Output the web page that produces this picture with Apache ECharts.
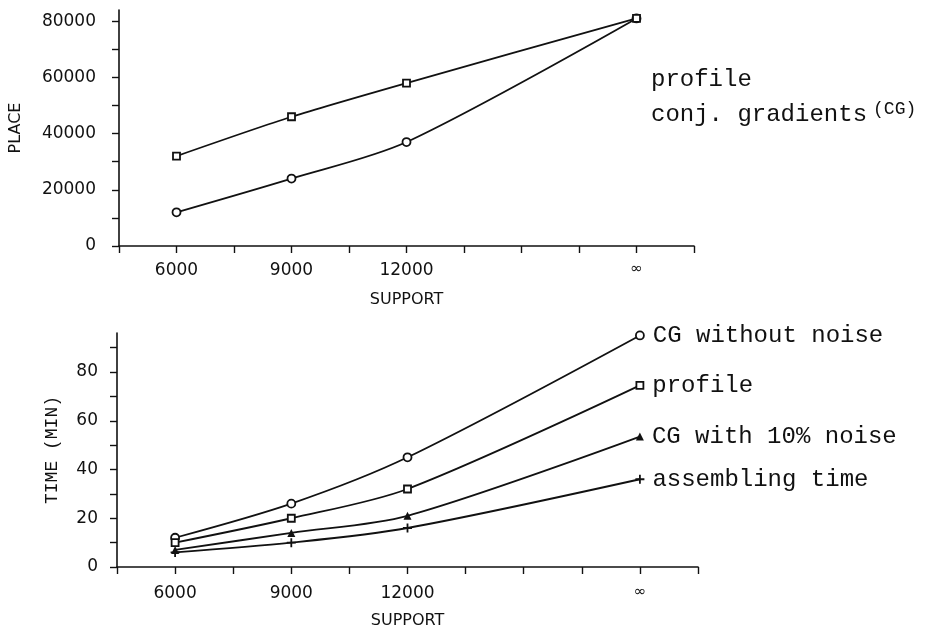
<!DOCTYPE html>
<html>
<head>
<meta charset="utf-8">
<title>Place and time versus support</title>
<script src="https://cdn.jsdelivr.net/npm/echarts@6/dist/echarts.min.js"></script>
<style>
  html, body { margin: 0; padding: 0; background: #fff; }
  #chart { width: 942px; height: 630px; }
</style>
</head>
<body>
<div id="chart"></div>
<script>
// Support sizes; the last entry is the unlimited case, plotted at 18000 and labelled ∞
const supportValues = [6000, 9000, 12000, 18000];
const supportLabels = ['6000', '9000', '12000', '∞'];
const supportTicks = [4500, 6000, 7500, 9000, 10500, 12000, 13500, 15000, 16500, 18000, 19500];

// Upper panel: storage (PLACE)
const placeProfile = [32000, 46000, 58000, 81000];
const placeCG = [12000, 24000, 37000, 81000];
const placeTicks = [0, 10000, 20000, 30000, 40000, 50000, 60000, 70000, 80000];
const placeLabels = [0, 20000, 40000, 60000, 80000];

// Lower panel: computing time in minutes
const timeCGNoNoise = [12, 26, 45, 95];
const timeProfile = [10, 20, 32, 74.5];
const timeCGNoise10 = [7, 14, 21, 53.5];
const timeAssembling = [6, 10, 16, 36];
const timeTicks = [0, 10, 20, 30, 40, 50, 60, 70, 80, 90];
const timeLabels = [0, 20, 40, 60, 80];

const INK = '#111';
const SANS = '"DejaVu Sans", sans-serif';
const MONO = '"Liberation Mono", "DejaVu Sans Mono", monospace';

const pairs = ys => supportValues.map((x, i) => [x, ys[i]]);
const supportLabelMap = {};
supportValues.forEach((v, i) => { supportLabelMap[v] = supportLabels[i]; });

const PLUS = 'path://M4,0h2v4h4v2h-4v4h-2v-4h-4v-2h4z';

function xAxis(gridIndex, labelMargin) {
  return {
    type: 'value', gridIndex, min: 4500, max: 19500,
    name: 'SUPPORT', nameLocation: 'middle', nameGap: 46,
    nameTextStyle: { color: INK, fontFamily: SANS, fontSize: 16, verticalAlign: 'top' },
    axisLine: { show: true, onZero: false, lineStyle: { color: INK, width: 1.6 } },
    axisTick: { show: true, length: 7, customValues: supportTicks, lineStyle: { color: INK, width: 1.4 } },
    axisLabel: {
      color: INK, fontFamily: SANS, fontSize: 17, margin: labelMargin,
      customValues: supportValues,
      formatter: v => supportLabelMap[v] === '∞' ? '{inf|∞}' : supportLabelMap[v],
      rich: { inf: { fontFamily: SANS, fontSize: 15, color: INK, padding: [0, 0, 6, 0] } }
    },
    splitLine: { show: false }
  };
}

function yAxis(gridIndex, max, ticks, labels, name, nameGap, nameStyle, labelMargin) {
  return {
    type: 'value', gridIndex, min: 0, max,
    name, nameLocation: 'middle', nameGap, nameRotate: 90,
    nameTextStyle: Object.assign({ color: INK }, nameStyle),
    axisLine: { show: true, onZero: false, lineStyle: { color: INK, width: 1.6 } },
    axisTick: { show: true, length: 7, customValues: ticks, lineStyle: { color: INK, width: 1.4 } },
    axisLabel: {
      color: INK, fontFamily: SANS, fontSize: 17, margin: labelMargin,
      customValues: labels, formatter: v => String(v)
    },
    splitLine: { show: false }
  };
}

function line(name, data, xi, yi, symbol, size, filled, endLabel, smooth) {
  return {
    type: 'line', name, xAxisIndex: xi, yAxisIndex: yi,
    data: pairs(data), smooth: smooth,
    symbol, symbolSize: size, showAllSymbol: true,
    lineStyle: { color: INK, width: 1.8 },
    itemStyle: { color: filled ? INK : '#fff', borderColor: INK, borderWidth: filled ? 0 : 1.8 },
    label: endLabel ? {
      show: true, position: 'right', distance: 8,
      color: INK, fontFamily: MONO, fontSize: 24,
      formatter: p => p.dataIndex === supportValues.length - 1 ? endLabel : ''
    } : { show: false },
    emphasis: { disabled: true },
    animation: false
  };
}

const chart = echarts.init(document.getElementById('chart'), null, { renderer: 'canvas' });

chart.setOption({
  backgroundColor: '#fff',
  animation: false,
  grid: [
    { left: 115, right: 248, top: 10, bottom: 384 },
    { left: 117, right: 244, top: 333, bottom: 62 }
  ],
  xAxis: [xAxis(0, 16), xAxis(1, 18)],
  yAxis: [
    yAxis(0, 84000, placeTicks, placeLabels, 'PLACE', 95,
      { fontFamily: SANS, fontSize: 16 }, 23),
    yAxis(1, 96, timeTicks, timeLabels, 'TIME (MIN)', 56,
      { fontFamily: MONO, fontSize: 18 }, 19)
  ],
  series: [
    line('conj. gradients (CG)', placeCG, 0, 0, 'circle', 8, false, null, 0.3),
    line('profile', placeProfile, 0, 0, 'rect', 7, false, null, 0.25),
    line('CG without noise', timeCGNoNoise, 1, 1, 'circle', 8, false, 'CG without noise', 0.3),
    line('profile', timeProfile, 1, 1, 'rect', 7, false, 'profile', 0.3),
    line('CG with 10% noise', timeCGNoise10, 1, 1, 'triangle', 8, true, 'CG with 10% noise', 0.3),
    line('assembling time', timeAssembling, 1, 1, PLUS, 9, true, 'assembling time', 0.3)
  ],
  graphic: [
    {
      type: 'text', left: 651, top: 68, silent: true,
      style: { text: 'profile', fill: INK, font: '24px ' + MONO }
    },
    {
      type: 'text', left: 651, top: 100, silent: true,
      style: {
        text: '{a|conj. gradients}{b|(CG)}', fill: INK,
        rich: {
          a: { fontFamily: MONO, fontSize: 24, fill: INK },
          b: { fontFamily: MONO, fontSize: 18, fill: INK, padding: [0, 0, 12, 6] }
        }
      }
    }
  ]
});
</script>
</body>
</html>
